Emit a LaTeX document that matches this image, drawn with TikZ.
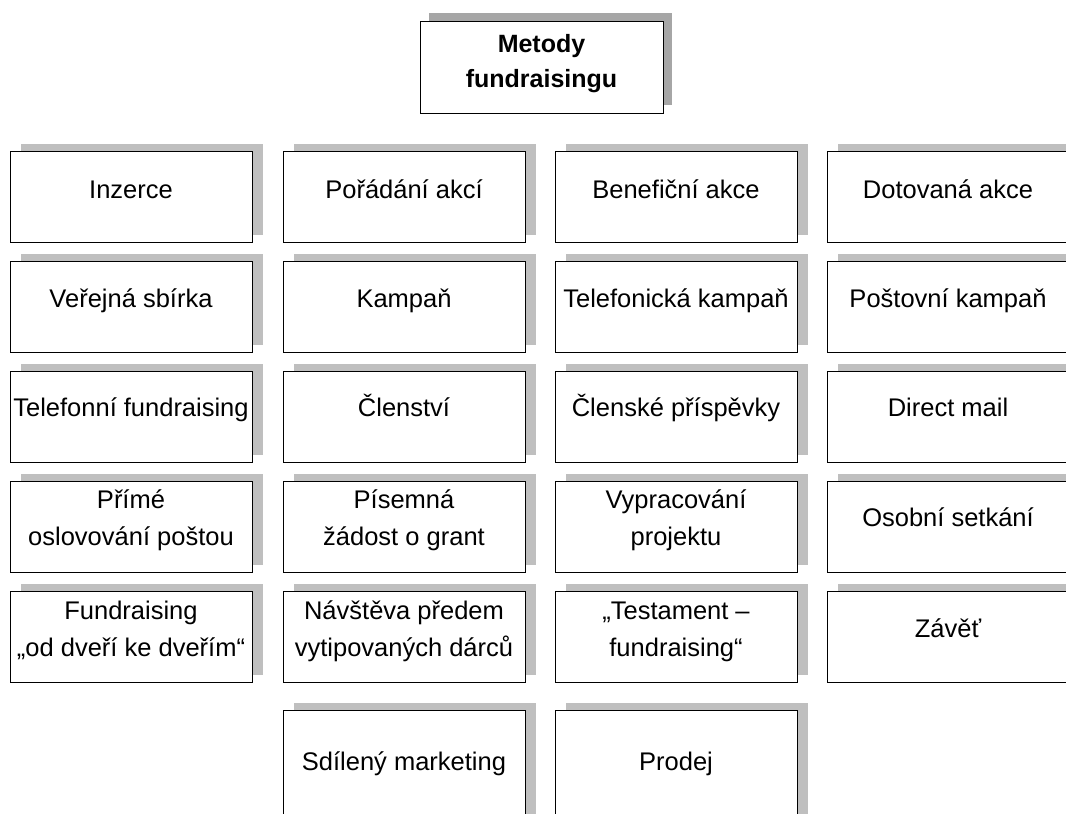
\documentclass[tikz,border=0pt]{standalone}
\usepackage{fontspec}
\setmainfont{Liberation Sans}
\begin{document}
\begin{tikzpicture}[x=1pt,y=-1pt,
  cellbox/.style={draw=black, line width=0.9pt, fill=white, minimum width=242pt, minimum height=91pt, anchor=north west, inner sep=0pt},
  shadowbox/.style={fill=gray!50, minimum width=242pt, minimum height=91pt, anchor=north west, inner sep=0pt},
  tallcell/.style={minimum height=120pt},
  titlebox/.style={draw=black, line width=0.9pt, fill=white, minimum width=243pt, minimum height=92pt, anchor=north west, inner sep=0pt},
  titleshadow/.style={fill=gray!70, minimum width=243pt, minimum height=92pt, anchor=north west, inner sep=0pt},
  lbl/.style={font=\fontsize{25.5}{37}\selectfont, align=center, inner sep=0pt},
  titlelbl/.style={font=\fontsize{25}{35}\selectfont\bfseries, align=center, inner sep=0pt},
]
\useasboundingbox (0,0) rectangle (1066,814);
\clip (0,0) rectangle (1066,814);
\newcommand\fcell[6][]{%
  \node[shadowbox,#1] (#2s) at (#3+11,#4-7) {};
  \node[cellbox,#1] (#2) at (#3,#4) {};
  \node[lbl] (#2t) at (#3+121,#5) {\vphantom{Čg}#6\vphantom{Čg}};
}
% title
\node[titleshadow] (titles) at (429,13) {};
\node[titlebox] (title) at (420,21) {};
\node[titlelbl] (titlet) at (541.5,64) {\vphantom{Mg}Metody\\fundraisingu\vphantom{Mg}};
% row 1
\fcell{a1}{10}{151}{190}{Inzerce}
\fcell{b1}{283}{151}{190}{Pořádání akcí}
\fcell{c1}{555}{151}{190}{Benefiční akce}
\fcell{d1}{827}{151}{190}{Dotovaná akce}
% row 2
\fcell{a2}{10}{261}{299}{Veřejná sbírka}
\fcell{b2}{283}{261}{299}{Kampaň}
\fcell{c2}{555}{261}{299}{Telefonická kampaň}
\fcell{d2}{827}{261}{299}{Poštovní kampaň}
% row 3
\fcell{a3}{10}{371}{408}{Telefonní fundraising}
\fcell{b3}{283}{371}{408}{Členství}
\fcell{c3}{555}{371}{408}{Členské příspěvky}
\fcell{d3}{827}{371}{408}{Direct mail}
% row 4
\fcell{a4}{10}{481}{518}{Přímé\\oslovování poštou}
\fcell{b4}{283}{481}{518}{Písemná\\žádost o grant}
\fcell{c4}{555}{481}{518}{Vypracování\\projektu}
\fcell{d4}{827}{481}{518}{Osobní setkání}
% row 5
\fcell{a5}{10}{591}{629}{Fundraising\\„od dveří ke dveřím“}
\fcell{b5}{283}{591}{629}{Návštěva předem\\vytipovaných dárců}
\fcell{c5}{555}{591}{629}{„Testament –\\fundraising“}
\fcell{d5}{827}{591}{629}{Závěť}
% row 6 (cut off by the lower edge)
\fcell[tallcell]{b6}{283}{710}{762}{Sdílený marketing}
\fcell[tallcell]{c6}{555}{710}{762}{Prodej}
\end{tikzpicture}
\end{document}
